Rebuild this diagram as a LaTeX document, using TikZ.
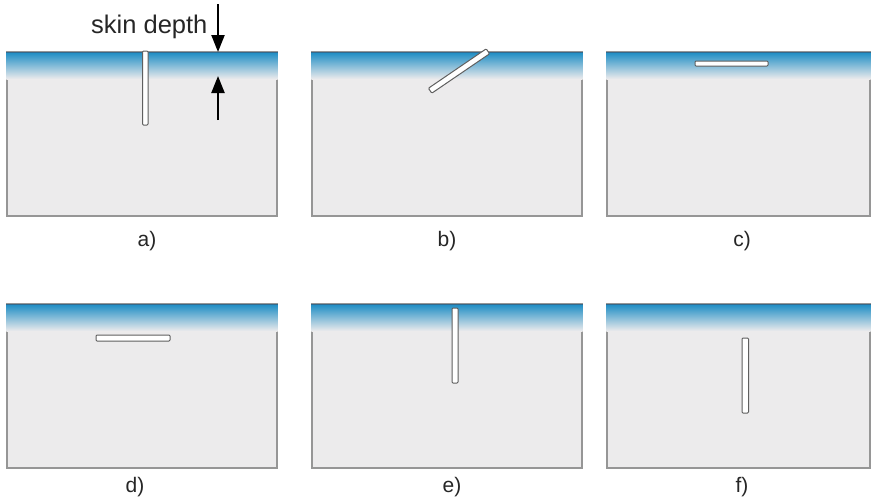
\documentclass[tikz,border=0pt]{standalone}
\usepackage{fontspec}
\setmainfont{Liberation Sans}
\usetikzlibrary{arrows.meta}
\definecolor{bodygray}{RGB}{236,235,236}
\definecolor{edgegray}{RGB}{150,150,150}
\definecolor{topblue}{RGB}{28,140,196}
\definecolor{midblue}{RGB}{125,192,222}
\definecolor{lineblue}{RGB}{50,105,140}
\definecolor{crackgray}{RGB}{95,95,95}
\begin{document}
\begin{tikzpicture}[x=1pt,y=-1pt,
  body/.style={fill=bodygray, draw=edgegray, line width=1.3pt},
  skin/.style={top color=topblue, middle color=midblue, bottom color=bodygray},
  surf/.style={draw=lineblue, line width=0.8pt},
  crack/.style={fill=white, draw=crackgray, line width=1pt, rounded corners=1pt},
  lbl/.style={font=\fontsize{21}{24}\selectfont, text=black!85},
  depth/.style={line width=2.2pt, -{Triangle[length=17pt,width=13pt]}}
]
\useasboundingbox (0,0) rectangle (872,499);
% panel a
\draw[body] (7,52) rectangle (277,216);
\shade[skin] (6.3,52) rectangle (277.7,79);
\draw[surf] (6.3,52) -- (277.7,52);
\draw[crack] (142.5,51) rectangle (148,125);
\node[lbl] (la) at (147,241) {a)};
% panel b
\draw[body] (312,52) rectangle (582,216);
\shade[skin] (311.3,52) rectangle (582.7,79);
\draw[surf] (311.3,52) -- (582.7,52);
\node[crack, minimum width=70pt, minimum height=6pt, inner sep=0pt, rotate=34.3] (cb) at (459,71) {};
\node[lbl] (lb) at (447,241) {b)};
% panel c
\draw[body] (607,52) rectangle (870,216);
\shade[skin] (606.3,52) rectangle (870.7,79);
\draw[surf] (606.3,52) -- (870.7,52);
\draw[crack] (695,61) rectangle (768,66);
\node[lbl] (lc) at (742,241) {c)};
% panel d
\draw[body] (7,304) rectangle (277,468);
\shade[skin] (6.3,304) rectangle (277.7,331);
\draw[surf] (6.3,304) -- (277.7,304);
\draw[crack] (96,335) rectangle (170,341);
\node[lbl] (ld) at (135,487) {d)};
% panel e
\draw[body] (312,304) rectangle (582,468);
\shade[skin] (311.3,304) rectangle (582.7,331);
\draw[surf] (311.3,304) -- (582.7,304);
\draw[crack] (452,308) rectangle (458,383);
\node[lbl] (le) at (452,487) {e)};
% panel f
\draw[body] (607,304) rectangle (870,468);
\shade[skin] (606.3,304) rectangle (870.7,331);
\draw[surf] (606.3,304) -- (870.7,304);
\draw[crack] (742,338) rectangle (748.5,413);
\node[lbl] (lf) at (742,487) {f)};
% skin depth annotation
\node[font=\fontsize{25.5}{29}\selectfont, text=black!85, anchor=base east] (sd) at (211,33) {skin depth};
\coordinate (d0) at (218,4);
\coordinate (d1) at (218,52);
\coordinate (u0) at (218,120);
\coordinate (u1) at (218,76);
\draw[depth] (d0) -- (d1);
\draw[depth] (u0) -- (u1);
\end{tikzpicture}
\end{document}
